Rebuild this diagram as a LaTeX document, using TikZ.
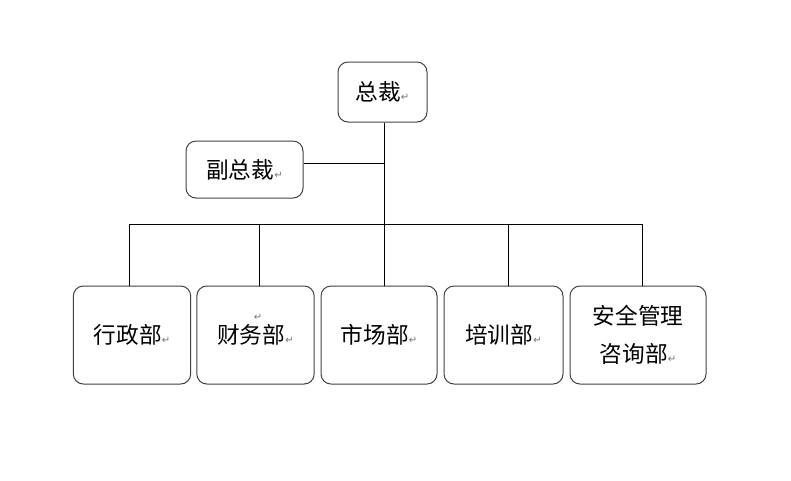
\documentclass[tikz,border=0pt]{standalone}
\usepackage{fontspec}
\setmainfont{Noto Sans CJK SC}
\newfontfamily\symfont{DejaVu Sans}
\usepackage{tikz}
\usetikzlibrary{positioning, calc}

\newcommand{\retmark}{\textcolor{black!55}{\symfont\fontsize{7.5pt}{7.5pt}\selectfont ↵}}

\begin{document}
\begin{tikzpicture}[x=0.75pt, y=-0.75pt, font=\fontsize{17pt}{29pt}\selectfont]

\tikzstyle{unit} = [rectangle, rounded corners=7.5pt, draw=black!75, line width=0.75pt, align=center, inner sep=0pt]
\tikzstyle{dept} = [unit, minimum width=88pt, minimum height=73.5pt]
\tikzstyle{link} = [line width=0.75pt, black]

\useasboundingbox (0,0) rectangle (791,480);

\node (ceo) [unit, minimum width=66.75pt, minimum height=45pt] at (382.5,92) {总裁\retmark};
\node (vp) [unit, minimum width=87.75pt, minimum height=42.75pt] at (244.5,169.5) {副总裁\retmark};

\node (xz) [dept] at (132,335) {行政部\retmark};
\node (cw) [dept] at (255.5,335) {财务部\retmark};
\node (sc) [dept, minimum width=87pt] at (379,335) {市场部\retmark};
\node (px) [dept, minimum width=89.25pt] at (503.5,335) {培训部\retmark};
\node (aq) [dept, minimum width=102pt] at (638,335) {安全管理\\咨询部\retmark};
\node (cwmark) [inner sep=0pt] at (258,317) {\retmark};

\coordinate (trunk) at ($(ceo.south)+(1.5,0)$);
\coordinate (bus) at ($(trunk)+(0,102)$);

\draw [link] (trunk) -- (trunk |- sc.north);
\draw [link] ($(vp.east)+(0,-6.5)$) -- (trunk |- 0,163);
\draw [link] ($(xz.north)+(-3,0)$) |- (bus) -| ($(aq.north)+(4,0)$);
\draw [link] ($(cw.north)+(3.5,0)$) -- +(0,-62);
\draw [link] ($(px.north)+(4.5,0)$) -- +(0,-62);
\end{tikzpicture}
\end{document}
